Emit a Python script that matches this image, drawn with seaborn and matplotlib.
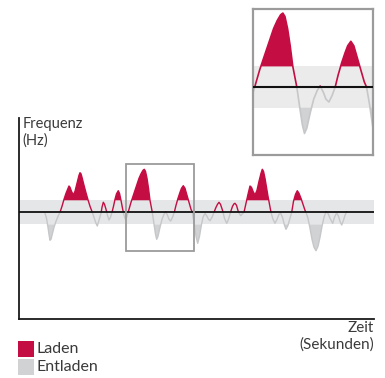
import matplotlib
matplotlib.use("Agg")
import matplotlib.pyplot as plt
from matplotlib.patches import Rectangle
import numpy as np
import seaborn as sns

# time (arbitrary units) and frequency deviation
time = [45, 46.5, 48, 49, 50, 51, 52, 54, 56, 58, 60, 62, 64, 66, 68, 69, 70, 71.5, 73.3, 75, 77, 79, 80,
        81, 82, 84, 86, 88, 90, 92.3, 94, 96, 97.3, 99, 101, 102, 103.3, 104.5, 106, 107.5, 109, 110.5,
        112, 113.5, 115, 116.5, 118.3, 119.5, 121, 122.5, 124, 125.7, 127, 129, 131, 133, 135, 137, 139,
        141, 143, 144.3, 145.5, 147, 148.5, 150, 152.3, 154, 155.5, 156.7, 158, 160, 162, 164, 165.7,
        167.5, 169, 170.7, 172.5, 174.3, 176, 178, 180, 181.5, 183.3, 185, 187, 189, 191, 192.3, 194, 196,
        197.7, 199.5, 201.5, 203, 205, 207, 208.5, 210, 212, 214, 216, 217.5, 219, 220.5, 222.5, 224.5,
        226.7, 228.5, 230.5, 232.5, 234, 235, 236.5, 238.5, 240.7, 242.3, 244, 246, 248, 250, 251.5, 253,
        255, 257, 259, 261, 262.3, 263.5, 265, 266.5, 268, 270, 271, 273, 275, 277, 279, 280.7, 282.5,
        284.5, 286, 288, 290, 291.7, 293.5, 295.5, 297.3, 299, 301, 303, 305, 306, 308, 310, 312, 314,
        316, 318, 320, 322, 324, 326, 328, 330, 332.7, 334.5, 336.7, 338.5, 340, 341.7, 343.5, 345, 346.7]
freq = [-1, -6, -15, -22, -28, -27, -23, -15, -9, -4, 0, 6, 13, 19, 24, 26.3, 25, 21, 17.3, 21, 29, 37, 39.6,
        38.5, 35, 27, 19.5, 12.5, 6, 0, -5, -11, -13.7, -8, -1, 5, 10, 8, 3, -3, -7.7, -5, 0, 6, 13, 18.5,
        21.6, 19, 12, 4, -3, -7.7, -4, 3, 10, 16, 22, 28, 34, 38.5, 42, 43, 41, 34, 24, 12, 0, -12, -22,
        -27, -24, -15, -7, -2, 0.6, -3, -7, -8.7, -5, 0, 7, 14, 20, 24, 26.6, 24, 17, 10, 3, 0, -10, -24,
        -31, -24, -12, -5, -1, -4, -7, -8.4, -5, 0, 5, 8, 10, 8, 2, -6, -11, -7, 0, 6, 8.5, 9, 7, 0, -3.4,
        -1.5, 0, 9, 18, 26.3, 25, 21, 17.3, 22, 31, 39, 43, 41, 34, 25, 16, 5, 0, -7, -11, -7, -2, -1,
        -5, -13, -17, -13, -6, 0, 11, 18, 21.6, 19, 14, 8, 2, 0, -6, -16, -27, -35, -38.4, -34, -25, -14,
        -5, 0.6, -1, -6, -11, -5, -0.4, -4, -9, -12.7, -8, -3, 0.6]

band = 12                # tolerance band around nominal frequency
zoom_box = (126, 194)    # window marked in the main chart
zoom_view = (127, 196)   # window shown enlarged

time = np.array(time, dtype=float)
freq = np.array(freq, dtype=float)

RED = "#c40d43"
GREY_LINE = "#c6c7c9"
GREY_FILL = "#d1d2d4"
TEXT = "#3a3a3a"

sns.set_style("white")
plt.rcParams["font.family"] = ["Lato", "DejaVu Sans"]

W, H = 385, 378
fig = plt.figure(figsize=(W / 100, H / 100), dpi=100)


def draw_signal(ax, xlim, ylim, band_color, lw):
    ax.set_xlim(*xlim)
    ax.set_ylim(*ylim)
    ax.axhspan(-band, band, color=band_color, lw=0, zorder=0)
    ax.fill_between(time, band, freq, where=freq > band, interpolate=True,
                    color=RED, lw=0, zorder=1)
    ax.fill_between(time, -band, freq, where=freq < -band, interpolate=True,
                    color=GREY_FILL, lw=0, zorder=1)
    # same curve twice: red above zero, grey below
    sns.lineplot(x=time, y=freq, ax=ax, color=RED, linewidth=lw, estimator=None, sort=False)
    sns.lineplot(x=time, y=freq, ax=ax, color=GREY_LINE, linewidth=lw, estimator=None, sort=False)
    width = xlim[1] - xlim[0]
    up = Rectangle((xlim[0], 0), width, ylim[1], transform=ax.transData)
    down = Rectangle((xlim[0], ylim[0]), width, -ylim[0], transform=ax.transData)
    ax.lines[-2].set_clip_path(up)
    ax.lines[-1].set_clip_path(down)
    ax.axhline(0, color="#111111", lw=lw + 0.3, zorder=3)
    ax.set_xlim(*xlim)
    ax.set_ylim(*ylim)
    ax.set_xticks([])
    ax.set_yticks([])
    ax.set_xlabel("")
    ax.set_ylabel("")


# main chart
ax = fig.add_axes([19 / W, 1 - 319 / H, 355 / W, 201 / H])
draw_signal(ax, (19, 374), (-106.7, 94.3), "#e5e6e7", 1.0)
sns.despine(ax=ax)
for s in ["left", "bottom"]:
    ax.spines[s].set_color("#1a1a1a")
    ax.spines[s].set_linewidth(1.3)
ax.add_patch(Rectangle((zoom_box[0], -38.7), zoom_box[1] - zoom_box[0], 86.7,
                       fill=False, ec="#9b9b9b", lw=1.3, zorder=4))

# enlarged view
axi = fig.add_axes([252.7 / W, 1 - 155 / H, 120.3 / W, 145.7 / H])
draw_signal(axi, zoom_view, (-39.5, 45.2), "#ebebeb", 1.2)
for s in axi.spines.values():
    s.set_visible(True)
    s.set_color("#9b9b9b")
    s.set_linewidth(1.6)

# axis captions
fig.text(22.5 / W, 1 - 117 / H, "Frequenz\n(Hz)", ha="left", va="top",
         fontsize=10.5, color=TEXT, linespacing=1.2)
fig.text(374 / W, 1 - 321 / H, "Zeit\n(Sekunden)", ha="right", va="top",
         fontsize=11, color=TEXT, linespacing=1.2)

# legend
for i, (label, color) in enumerate([("Laden", RED), ("Entladen", GREY_FILL)]):
    y0 = 340.5 + i * 18
    fig.add_artist(Rectangle((18.3 / W, 1 - (y0 + 16) / H), 16 / W, 16 / H,
                             transform=fig.transFigure, color=color, lw=0))
    fig.text(37 / W, 1 - (y0 + 8.5) / H, label, ha="left", va="center",
             fontsize=11.5, color=TEXT)

fig.savefig("out.png", dpi=100)
